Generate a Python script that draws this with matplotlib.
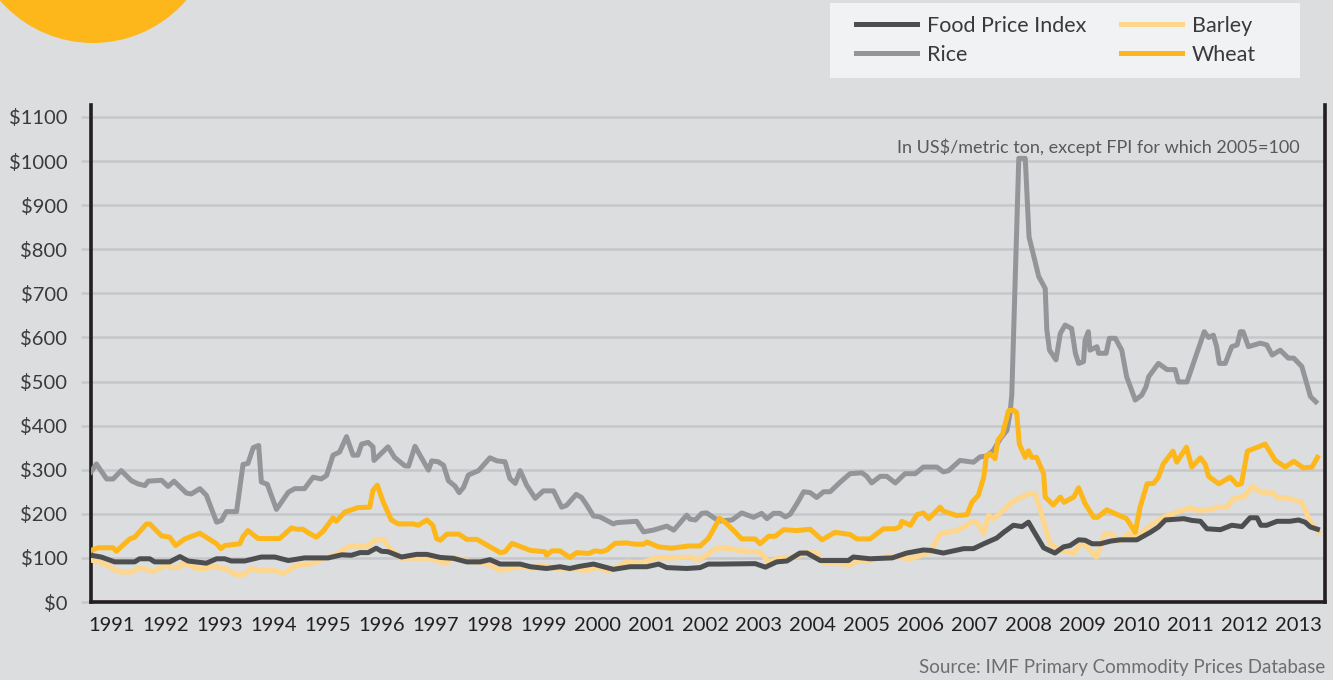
import matplotlib
matplotlib.use("Agg")
import matplotlib.pyplot as plt
from matplotlib.patches import Circle, Rectangle

# x = fractional year, values in US$/metric ton (FPI: 2005=100)
fpi_x = [1991.11, 1991.30, 1991.55, 1991.92, 1992.01, 1992.20, 1992.29, 1992.57, 1992.76, 1992.91,
         1993.25, 1993.44, 1993.59, 1993.71, 1993.96, 1994.27, 1994.52, 1994.77, 1995.07, 1995.51,
         1995.76, 1995.94, 1996.10, 1996.25, 1996.40, 1996.50, 1996.62, 1996.87, 1997.15, 1997.34,
         1997.59, 1997.83, 1998.08, 1998.33, 1998.51, 1998.70, 1999.07, 1999.26, 1999.56, 1999.81,
         1999.99, 2000.18, 2000.43, 2000.80, 2001.11, 2001.42, 2001.64, 2001.79, 2002.16, 2002.41,
         2002.56, 2002.78, 2003.43, 2003.62, 2003.83, 2004.02, 2004.26, 2004.39, 2004.64, 2005.16,
         2005.25, 2005.56, 2005.97, 2006.24, 2006.55, 2006.68, 2006.92, 2007.30, 2007.48, 2007.67,
         2007.91, 2008.04, 2008.22, 2008.38, 2008.50, 2008.59, 2008.78, 2008.99, 2009.15, 2009.27,
         2009.43, 2009.55, 2009.68, 2009.83, 2010.02, 2010.20, 2010.51, 2010.76, 2010.91, 2011.04,
         2011.38, 2011.53, 2011.69, 2011.81, 2012.06, 2012.27, 2012.46, 2012.61, 2012.74, 2012.81,
         2012.92, 2013.11, 2013.35, 2013.51, 2013.63, 2013.73, 2013.86]
fpi_y = [106, 102, 91, 91, 98, 98, 91, 91, 103, 93,
         88, 98, 98, 93, 93, 102, 102, 94, 100, 100,
         107, 106, 112, 112, 122, 115, 114, 102, 108, 108,
         101, 99, 91, 91, 96, 86, 86, 80, 76, 80,
         76, 81, 86, 74, 80, 80, 86, 78, 76, 78,
         86, 86, 87, 79, 91, 93, 111, 111, 94, 94,
         102, 98, 100, 111, 118, 117, 111, 121, 121, 132,
         145, 158, 174, 171, 181, 162, 123, 111, 125, 128,
         141, 140, 132, 132, 138, 141, 141, 158, 170, 186,
         189, 185, 183, 166, 164, 174, 171, 191, 191, 174,
         174, 183, 183, 186, 181, 170, 165]

rice_x = [1991.11, 1991.21, 1991.40, 1991.52, 1991.67, 1991.86, 1991.98, 1992.11, 1992.17, 1992.42,
          1992.54, 1992.65, 1992.88, 1992.97, 1993.13, 1993.25, 1993.44, 1993.53, 1993.62, 1993.81,
          1993.93, 1994.02, 1994.12, 1994.22, 1994.27, 1994.38, 1994.55, 1994.77, 1994.89, 1995.07,
          1995.23, 1995.38, 1995.48, 1995.60, 1995.72, 1995.85, 1995.97, 1996.06, 1996.13, 1996.25,
          1996.34, 1996.36, 1996.62, 1996.74, 1996.93, 1997.00, 1997.12, 1997.25, 1997.37, 1997.43,
          1997.55, 1997.65, 1997.74, 1997.86, 1997.94, 1998.02, 1998.11, 1998.30, 1998.51, 1998.64,
          1998.79, 1998.88, 1998.98, 1999.07, 1999.19, 1999.35, 1999.50, 1999.69, 1999.84, 1999.93,
          2000.11, 2000.21, 2000.31, 2000.43, 2000.55, 2000.80, 2000.86, 2001.23, 2001.36, 2001.54,
          2001.79, 2001.92, 2002.16, 2002.22, 2002.32, 2002.44, 2002.53, 2002.69, 2002.78, 2003.00,
          2003.18, 2003.40, 2003.55, 2003.65, 2003.77, 2003.89, 2003.99, 2004.08, 2004.20, 2004.33,
          2004.45, 2004.57, 2004.70, 2004.82, 2005.01, 2005.19, 2005.41, 2005.50, 2005.59, 2005.75,
          2005.87, 2006.03, 2006.21, 2006.40, 2006.55, 2006.80, 2006.92, 2007.02, 2007.23, 2007.48,
          2007.60, 2007.73, 2007.85, 2007.98, 2008.10, 2008.16, 2008.19, 2008.32, 2008.44, 2008.51,
          2008.69, 2008.81, 2008.84, 2008.89, 2009.01, 2009.09, 2009.18, 2009.30, 2009.37, 2009.43,
          2009.52, 2009.55, 2009.61, 2009.64, 2009.77, 2009.80, 2009.94, 2010.00, 2010.11, 2010.23,
          2010.32, 2010.48, 2010.60, 2010.68, 2010.73, 2010.91, 2011.07, 2011.22, 2011.28, 2011.44,
          2011.76, 2011.84, 2011.93, 2011.99, 2012.04, 2012.15, 2012.27, 2012.37, 2012.43, 2012.48,
          2012.58, 2012.80, 2012.92, 2013.02, 2013.17, 2013.32, 2013.42, 2013.57, 2013.73, 2013.83]
rice_y = [295, 313, 279, 279, 298, 275, 268, 264, 274, 276,
          262, 274, 247, 245, 257, 242, 181, 185, 205, 205,
          312, 314, 350, 355, 272, 267, 210, 249, 257, 257,
          283, 279, 287, 333, 340, 375, 333, 333, 358, 362,
          352, 321, 352, 328, 309, 308, 353, 325, 299, 320,
          318, 310, 275, 263, 248, 260, 288, 298, 327, 320,
          318, 280, 269, 298, 265, 235, 252, 252, 215, 219,
          244, 237, 219, 195, 193, 177, 180, 183, 159, 163,
          172, 163, 197, 188, 186, 201, 202, 189, 184, 186,
          202, 192, 201, 189, 201, 201, 193, 199, 222, 250,
          248, 237, 250, 250, 272, 291, 293, 285, 270, 285,
          285, 270, 291, 291, 306, 306, 295, 298, 321, 317,
          329, 331, 344, 371, 389, 430, 470, 1006, 1006, 828,
          738, 711, 617, 571, 549, 609, 628, 620, 564, 541,
          545, 594, 613, 571, 579, 564, 564, 598, 598, 571,
          511, 458, 469, 488, 511, 541, 527, 527, 499, 499,
          613, 600, 605, 579, 541, 541, 579, 583, 613, 613,
          579, 587, 583, 560, 571, 553, 553, 534, 466, 454]

barley_x = [1991.11, 1991.36, 1991.55, 1991.67, 1991.89, 1991.98, 1992.08, 1992.26, 1992.38, 1992.48,
            1992.57, 1992.73, 1992.79, 1992.97, 1993.07, 1993.25, 1993.37, 1993.59, 1993.81, 1993.93,
            1994.09, 1994.21, 1994.52, 1994.67, 1994.92, 1995.20, 1995.38, 1995.51, 1995.69, 1995.91,
            1996.25, 1996.37, 1996.53, 1996.65, 1996.87, 1997.21, 1997.40, 1997.52, 1997.71, 1997.83,
            1998.08, 1998.45, 1998.70, 1998.88, 1999.04, 1999.32, 1999.44, 1999.75, 2000.31, 2000.49,
            2000.71, 2001.05, 2001.30, 2001.58, 2001.92, 2002.22, 2002.38, 2002.53, 2002.66, 2002.78,
            2002.97, 2003.15, 2003.52, 2003.68, 2003.89, 2004.20, 2004.36, 2004.57, 2004.70, 2005.01,
            2005.16, 2005.32, 2005.50, 2005.69, 2005.93, 2006.31, 2006.68, 2006.86, 2006.99, 2007.17,
            2007.36, 2007.45, 2007.54, 2007.67, 2007.76, 2007.85, 2008.04, 2008.22, 2008.38, 2008.50,
            2008.62, 2008.72, 2008.81, 2008.90, 2009.09, 2009.34, 2009.49, 2009.61, 2009.76, 2009.92,
            2010.05, 2010.17, 2010.36, 2010.50, 2010.76, 2011.00, 2011.25, 2011.50, 2011.62, 2011.87,
            2011.99, 2012.18, 2012.30, 2012.49, 2012.66, 2012.80, 2013.05, 2013.11, 2013.29, 2013.57,
            2013.73, 2013.88]
barley_y = [95, 87, 73, 68, 68, 78, 76, 69, 76, 85,
            79, 78, 87, 83, 76, 76, 81, 76, 62, 62,
            76, 72, 72, 64, 83, 87, 96, 102, 110, 127,
            127, 140, 142, 122, 99, 99, 99, 93, 88, 102,
            93, 87, 72, 76, 80, 76, 84, 76, 72, 78,
            70, 91, 88, 100, 100, 102, 96, 106, 119, 123,
            121, 117, 113, 91, 100, 103, 113, 111, 88, 88,
            83, 93, 91, 100, 103, 98, 113, 155, 158, 162,
            174, 183, 181, 156, 196, 189, 209, 229, 238, 245,
            247, 208, 170, 132, 117, 111, 136, 121, 102, 156,
            153, 136, 156, 147, 174, 192, 204, 214, 208, 209,
            215, 215, 234, 239, 262, 249, 247, 236, 236, 226,
            181, 158]

wheat_x = [1991.11, 1991.24, 1991.52, 1991.58, 1991.83, 1991.92, 1992.14, 1992.20, 1992.42, 1992.57,
           1992.68, 1992.85, 1993.13, 1993.44, 1993.52, 1993.59, 1993.87, 1993.93, 1994.02, 1994.21,
           1994.61, 1994.83, 1994.92, 1995.04, 1995.14, 1995.29, 1995.42, 1995.60, 1995.66, 1995.82,
           1996.06, 1996.28, 1996.34, 1996.42, 1996.53, 1996.68, 1996.81, 1997.09, 1997.18, 1997.34,
           1997.45, 1997.52, 1997.59, 1997.71, 1997.93, 1998.08, 1998.27, 1998.70, 1998.79, 1998.92,
           1999.26, 1999.53, 1999.56, 1999.66, 1999.81, 1999.99, 2000.12, 2000.34, 2000.46, 2000.58,
           2000.68, 2000.83, 2001.05, 2001.20, 2001.36, 2001.42, 2001.64, 2001.88, 2002.19, 2002.41,
           2002.56, 2002.69, 2002.77, 2002.87, 2003.03, 2003.18, 2003.43, 2003.52, 2003.68, 2003.80,
           2003.96, 2004.20, 2004.45, 2004.67, 2004.91, 2005.19, 2005.32, 2005.56, 2005.81, 2006.03,
           2006.12, 2006.15, 2006.31, 2006.43, 2006.55, 2006.65, 2006.86, 2006.92, 2007.17, 2007.36,
           2007.45, 2007.57, 2007.67, 2007.72, 2007.79, 2007.88, 2007.93, 2008.02, 2008.13, 2008.22,
           2008.28, 2008.33, 2008.44, 2008.50, 2008.56, 2008.65, 2008.78, 2008.81, 2008.96, 2009.09,
           2009.16, 2009.34, 2009.43, 2009.55, 2009.71, 2009.78, 2009.95, 2010.32, 2010.48, 2010.57,
           2010.70, 2010.82, 2010.91, 2011.00, 2011.18, 2011.25, 2011.43, 2011.53, 2011.69, 2011.78,
           2011.84, 2012.03, 2012.24, 2012.37, 2012.45, 2012.56, 2012.89, 2013.08, 2013.26, 2013.42,
           2013.60, 2013.76, 2013.86]
wheat_y = [117, 123, 123, 115, 143, 147, 177, 177, 150, 147,
           128, 143, 156, 132, 121, 128, 132, 148, 162, 144,
           144, 168, 165, 165, 157, 147, 161, 191, 183, 204,
           214, 215, 253, 265, 227, 186, 177, 177, 174, 186,
           174, 144, 140, 154, 154, 142, 142, 112, 114, 133,
           117, 114, 106, 116, 116, 101, 112, 110, 116, 114,
           118, 133, 134, 131, 131, 136, 125, 122, 127, 127,
           144, 172, 190, 181, 162, 143, 143, 132, 149, 149,
           164, 162, 165, 141, 158, 153, 143, 143, 166, 166,
           171, 183, 174, 198, 202, 189, 215, 206, 196, 198,
           226, 242, 283, 332, 336, 325, 366, 381, 434, 435,
           430, 358, 328, 343, 328, 328, 291, 238, 220, 238,
           226, 238, 259, 223, 192, 192, 209, 189, 158, 215,
           268, 269, 283, 313, 342, 317, 351, 306, 327, 312,
           285, 268, 283, 266, 268, 342, 358, 321, 306, 319,
           304, 306, 328]

years = list(range(1991, 2014))
yticks = list(range(0, 1101, 100))

BG = "#dcdddf"
GRID = "#c6c7c9"
INK = "#231f20"

plt.rcParams["font.family"] = ["Lato", "DejaVu Sans"]

fig = plt.figure(figsize=(13.33, 6.8), dpi=100, facecolor=BG)
ax = fig.add_axes([91 / 1333, 78 / 680, 1234 / 1333, 497 / 680], facecolor=BG)

# decorative circle top-left
fig.add_artist(Circle((0.93, 7.6), 1.23, transform=fig.dpi_scale_trans,
                      facecolor="#fdb71a", edgecolor="none", clip_on=False))

lw = 3.6
ax.plot(rice_x, rice_y, color="#939598", lw=lw, label="Rice", zorder=3, solid_joinstyle="round")
ax.plot(barley_x, barley_y, color="#fed68c", lw=lw, label="Barley", zorder=4, solid_joinstyle="round")
ax.plot(fpi_x, fpi_y, color="#4d4e50", lw=lw, label="Food Price Index", zorder=5, solid_joinstyle="round")
ax.plot(wheat_x, wheat_y, color="#fdb71a", lw=lw, label="Wheat", zorder=6, solid_joinstyle="round")

ax.set_xlim(1991.11, 2014.0)
ax.set_ylim(0, 1127)
ax.set_yticks(yticks)
ax.set_yticklabels([f"${v}" for v in yticks])
ax.set_xticks([y + 0.5 for y in years])
ax.set_xticklabels([str(y) for y in years])
ax.tick_params(axis="y", length=7, width=1.8, color=GRID, pad=10, labelsize=14.5, labelcolor="#3a3a3c")
ax.tick_params(axis="x", length=0, pad=11, labelsize=14.5, labelcolor=INK)
ax.grid(axis="y", color=GRID, lw=1.8, zorder=0)
ax.set_axisbelow(True)
for s in ["left", "right", "bottom"]:
    ax.spines[s].set_color(INK)
    ax.spines[s].set_linewidth(2.6)
ax.spines["top"].set_visible(False)

fig.text(1300 / 1333, 1 - 147 / 680, "In US$/metric ton, except FPI for which 2005=100",
         ha="right", va="center", fontsize=13, color="#58595b")
fig.text(1325 / 1333, 1 - 668 / 680, "Source: IMF Primary Commodity Prices Database",
         ha="right", va="center", fontsize=13.5, color="#6d6e71")

# legend box
fig.add_artist(Rectangle((830 / 1333, 1 - 78 / 680), 470 / 1333, 75 / 680,
                         transform=fig.transFigure, facecolor="#f1f2f3", edgecolor="none"))
h, l = ax.get_legend_handles_labels()
order = [l.index("Food Price Index"), l.index("Rice"), l.index("Barley"), l.index("Wheat")]
leg = fig.legend([h[i] for i in order], [l[i] for i in order], ncol=2, frameon=False,
                 loc="upper left", bbox_to_anchor=(856 / 1333, 1 - 16 / 680),
                 borderpad=0, borderaxespad=0, fontsize=15.5, handlelength=2.85,
                 handletextpad=0.45, columnspacing=1.6, labelspacing=0.4)
for t in leg.get_texts():
    t.set_color("#3a3a3c")

fig.savefig("out.png", dpi=100, facecolor=BG)
